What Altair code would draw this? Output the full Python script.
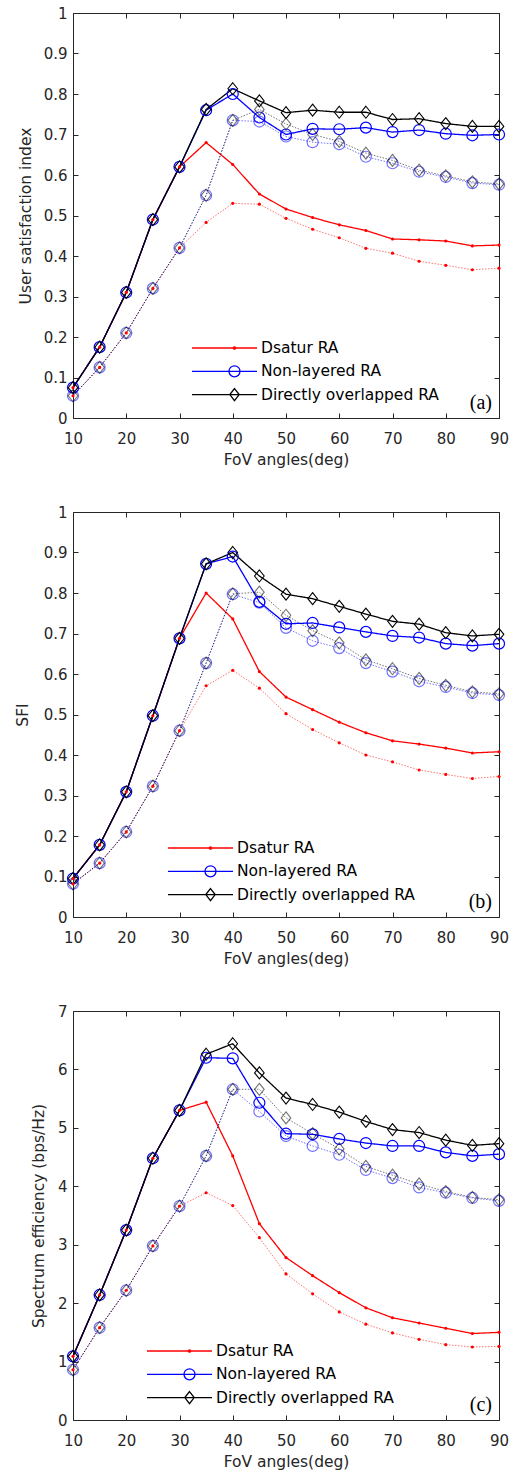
import altair as alt
import pandas as pd

# ---------------- data ----------------
fov = [10, 15, 20, 25, 30, 35, 40, 45, 50, 55, 60, 65, 70, 75, 80, 85, 90]
methods = ["Dsatur RA", "Non-layered RA", "Directly overlapped RA"]
styles = ["solid", "dotted"]
x_ticks = [10, 20, 30, 40, 50, 60, 70, 80, 90]
y_ticks_unit = [0, 0.1, 0.2, 0.3, 0.4, 0.5, 0.6, 0.7, 0.8, 0.9, 1]
y_ticks_se = [0, 1, 2, 3, 4, 5, 6, 7]
y_titles = ["User satisfaction index", "SFI", "Spectrum efficiency (bps/Hz)"]
tags = ["(a)", "(b)", "(c)"]

# panel (a) user satisfaction index
a_dsatur_solid = [0.075, 0.175, 0.31, 0.49, 0.62, 0.68, 0.626, 0.553, 0.516, 0.495, 0.477, 0.463, 0.442, 0.44, 0.437, 0.425, 0.427]
a_nonlayered_solid = [0.075, 0.175, 0.31, 0.49, 0.62, 0.76, 0.80, 0.742, 0.70, 0.714, 0.713, 0.717, 0.706, 0.711, 0.702, 0.698, 0.70]
a_overlap_solid = [0.075, 0.175, 0.31, 0.49, 0.62, 0.762, 0.813, 0.783, 0.754, 0.76, 0.755, 0.755, 0.737, 0.739, 0.727, 0.72, 0.72]
a_dsatur_dotted = [0.055, 0.125, 0.21, 0.32, 0.42, 0.483, 0.53, 0.528, 0.493, 0.466, 0.445, 0.419, 0.407, 0.387, 0.377, 0.366, 0.37]
a_nonlayered_dotted = [0.055, 0.125, 0.21, 0.32, 0.42, 0.55, 0.735, 0.732, 0.695, 0.681, 0.676, 0.645, 0.629, 0.608, 0.595, 0.58, 0.576]
a_overlap_dotted = [0.055, 0.125, 0.21, 0.32, 0.42, 0.55, 0.735, 0.762, 0.726, 0.70, 0.683, 0.654, 0.636, 0.612, 0.598, 0.583, 0.578]

# panel (b) SFI
b_dsatur_solid = [0.095, 0.178, 0.309, 0.497, 0.688, 0.80, 0.736, 0.606, 0.543, 0.512, 0.481, 0.455, 0.435, 0.427, 0.417, 0.405, 0.408]
b_nonlayered_solid = [0.095, 0.178, 0.309, 0.497, 0.688, 0.872, 0.89, 0.778, 0.724, 0.726, 0.715, 0.704, 0.694, 0.69, 0.675, 0.67, 0.675]
b_overlap_solid = [0.095, 0.178, 0.309, 0.497, 0.688, 0.872, 0.90, 0.842, 0.797, 0.786, 0.767, 0.748, 0.73, 0.723, 0.702, 0.694, 0.698]
b_dsatur_dotted = [0.082, 0.133, 0.21, 0.323, 0.46, 0.571, 0.609, 0.565, 0.502, 0.463, 0.43, 0.40, 0.383, 0.363, 0.352, 0.342, 0.347]
b_nonlayered_dotted = [0.082, 0.133, 0.21, 0.323, 0.46, 0.627, 0.797, 0.776, 0.714, 0.682, 0.664, 0.627, 0.606, 0.582, 0.568, 0.553, 0.548]
b_overlap_dotted = [0.082, 0.133, 0.21, 0.323, 0.46, 0.627, 0.798, 0.802, 0.745, 0.707, 0.677, 0.635, 0.613, 0.589, 0.572, 0.556, 0.551]

# panel (c) spectrum efficiency
c_dsatur_solid = [1.09, 2.14, 3.25, 4.48, 5.3, 5.44, 4.52, 3.36, 2.78, 2.47, 2.18, 1.92, 1.75, 1.66, 1.57, 1.48, 1.5]
c_nonlayered_solid = [1.09, 2.14, 3.25, 4.48, 5.3, 6.2, 6.19, 5.43, 4.9, 4.89, 4.81, 4.74, 4.69, 4.69, 4.58, 4.52, 4.55]
c_overlap_solid = [1.09, 2.14, 3.25, 4.48, 5.3, 6.26, 6.44, 5.94, 5.51, 5.4, 5.27, 5.11, 4.97, 4.92, 4.79, 4.70, 4.73]
c_dsatur_dotted = [0.86, 1.58, 2.22, 2.98, 3.66, 3.89, 3.67, 3.12, 2.5, 2.16, 1.85, 1.64, 1.49, 1.38, 1.29, 1.25, 1.26]
c_nonlayered_dotted = [0.86, 1.58, 2.22, 2.98, 3.66, 4.52, 5.66, 5.28, 4.86, 4.69, 4.54, 4.28, 4.14, 3.98, 3.89, 3.8, 3.75]
c_overlap_dotted = [0.86, 1.58, 2.22, 2.98, 3.66, 4.52, 5.66, 5.66, 5.17, 4.90, 4.64, 4.34, 4.19, 4.04, 3.91, 3.81, 3.77]

# ---------------- styling ----------------
COLORS = ["#ff0000", "#0000ff", "#000000"]
FONT = "DejaVu Sans"
INK = "#262626"
W = 426
DIAMOND = "M0,-1L0.8,0L0,1L-0.8,0Z"
LEGEND_PATHS = [
    "M-1,0H5.5M3.37,0A0.12,0.12 0 1,1 3.13,0A0.12,0.12 0 1,1 3.37,0",
    "M-1,0H5.5M3.8,0A0.55,0.55 0 1,1 2.7,0A0.55,0.55 0 1,1 3.8,0",
    "M-1,0H5.5M3.25,-0.6L3.72,0L3.25,0.6L2.78,0Z",
]


def long_df(ds_s, nl_s, do_s, ds_d, nl_d, do_d):
    rows = []
    series = [
        (methods[0], "dotted", ds_d), (methods[0], "solid", ds_s),
        (methods[1], "dotted", nl_d), (methods[1], "solid", nl_s),
        (methods[2], "dotted", do_d), (methods[2], "solid", do_s),
    ]
    for m, s, vals in series:
        for x, y in zip(fov, vals):
            rows.append({"method": m, "style": s, "fov": x, "value": y})
    return pd.DataFrame(rows)


def panel(df, ytitle, yticks, ydom, tag, h, lx, ly, title_x):
    xscale = alt.Scale(domain=[10, 90], nice=False, zero=False)
    yscale = alt.Scale(domain=ydom, nice=False, zero=False)
    common = dict(labelFont=FONT, labelFontSize=15, labelColor=INK, titleFont=FONT,
                  titleFontSize=15.5, titleFontWeight="normal", titleColor=INK,
                  tickColor=INK, tickWidth=1, tickSize=5, offset=-5, domain=False,
                  grid=False, labelFlush=False)
    x_bottom = alt.X("fov:Q", scale=xscale, axis=alt.Axis(
        orient="bottom", values=x_ticks, labelPadding=13, title="FoV angles(deg)",
        titlePadding=6, **common))
    y_left = alt.Y("value:Q", scale=yscale, axis=alt.Axis(
        orient="left", values=yticks, format="~g", labelPadding=6, title=ytitle,
        titleX=title_x, titleY=h / 2, titleBaseline="middle", titleAlign="center",
        titleAngle=270, **common))
    x_top = alt.X("fov:Q", scale=xscale, axis=alt.Axis(
        orient="top", values=x_ticks, labels=False, title=None, **common))
    y_right = alt.Y("value:Q", scale=yscale, axis=alt.Axis(
        orient="right", values=yticks, labels=False, title=None, **common))
    x_plain = alt.X("fov:Q", scale=xscale, axis=None)
    y_plain = alt.Y("value:Q", scale=yscale, axis=None)

    base = alt.Chart(df)
    lines = base.mark_line().encode(
        x=x_bottom, y=y_left,
        color=alt.Color("method:N", scale=alt.Scale(domain=methods, range=COLORS), legend=None),
        strokeDash=alt.StrokeDash("style:N", scale=alt.Scale(domain=styles, range=[[1, 0], [1.5, 1.5]]), legend=None),
        strokeWidth=alt.StrokeWidth("style:N", scale=alt.Scale(domain=styles, range=[1.3, 1.0]), legend=None),
        opacity=alt.Opacity("style:N", scale=alt.Scale(domain=styles, range=[1, 0.55]), legend=None),
    )
    marker_opacity = alt.Opacity("style:N", scale=alt.Scale(domain=styles, range=[1, 0.75]), legend=None)
    circles = base.transform_filter(alt.datum.method == methods[1]).mark_point(
        shape="circle", size=121, filled=False, strokeWidth=1.2, color=COLORS[1]
    ).encode(x=x_top, y=y_right, opacity=marker_opacity)
    diamonds = base.transform_filter(alt.datum.method == methods[2]).mark_point(
        shape=DIAMOND, size=144, filled=False, strokeWidth=1.1, color=COLORS[2]
    ).encode(x=x_plain, y=y_plain, opacity=marker_opacity)
    dots = base.transform_filter(alt.datum.method == methods[0]).mark_circle(
        size=10, color=COLORS[0], opacity=1
    ).encode(x=x_plain, y=y_plain)

    leg = alt.Legend(orient="none", legendX=lx, legendY=ly, title=None, padding=0,
                     labelFont=FONT, labelFontSize=15.5, labelColor="#000000",
                     symbolSize=400, symbolStrokeWidth=1.3, symbolOpacity=1,
                     labelOffset=48, rowPadding=3.3, labelLimit=400)
    legend_layer = alt.Chart(pd.DataFrame({"method": methods})).mark_point(
        filled=False, opacity=0, strokeWidth=1.3
    ).encode(
        color=alt.Color("method:N", scale=alt.Scale(domain=methods, range=COLORS), legend=leg),
        shape=alt.Shape("method:N", scale=alt.Scale(domain=methods, range=LEGEND_PATHS), legend=leg),
    )
    tag_text = alt.Chart(pd.DataFrame({"tag": [tag]})).mark_text(
        font="Liberation Serif", fontSize=20, align="right", baseline="middle", color="#000000"
    ).encode(x=alt.value(W - 7), y=alt.value(h - 15), text="tag:N")

    return alt.layer(lines, circles, diamonds, dots, legend_layer, tag_text).resolve_scale(
        color="independent", shape="independent"
    ).resolve_axis(x="independent", y="independent").properties(width=W, height=h)


df_a = long_df(a_dsatur_solid, a_nonlayered_solid, a_overlap_solid, a_dsatur_dotted, a_nonlayered_dotted, a_overlap_dotted)
df_b = long_df(b_dsatur_solid, b_nonlayered_solid, b_overlap_solid, b_dsatur_dotted, b_nonlayered_dotted, b_overlap_dotted)
df_c = long_df(c_dsatur_solid, c_nonlayered_solid, c_overlap_solid, c_dsatur_dotted, c_nonlayered_dotted, c_overlap_dotted)

pa = panel(df_a, y_titles[0], y_ticks_unit, [0, 1], tags[0], 405, 118, 324, -53)
pb = panel(df_b, y_titles[1], y_ticks_unit, [0, 1], tags[1], 405, 94, 325, -56)
pc = panel(df_c, y_titles[2], y_ticks_se, [0, 7], tags[2], 409, 73, 329, -40)

chart = alt.vconcat(pa, pb, pc, spacing=36).resolve_scale(
    color="independent", shape="independent"
).properties(
    padding={"left": 14, "top": 5, "right": 5, "bottom": 5},
    background="white",
).configure_view(
    stroke=INK, strokeWidth=1
)

chart.save("out.html", embed_options={"renderer": "svg", "actions": False})
